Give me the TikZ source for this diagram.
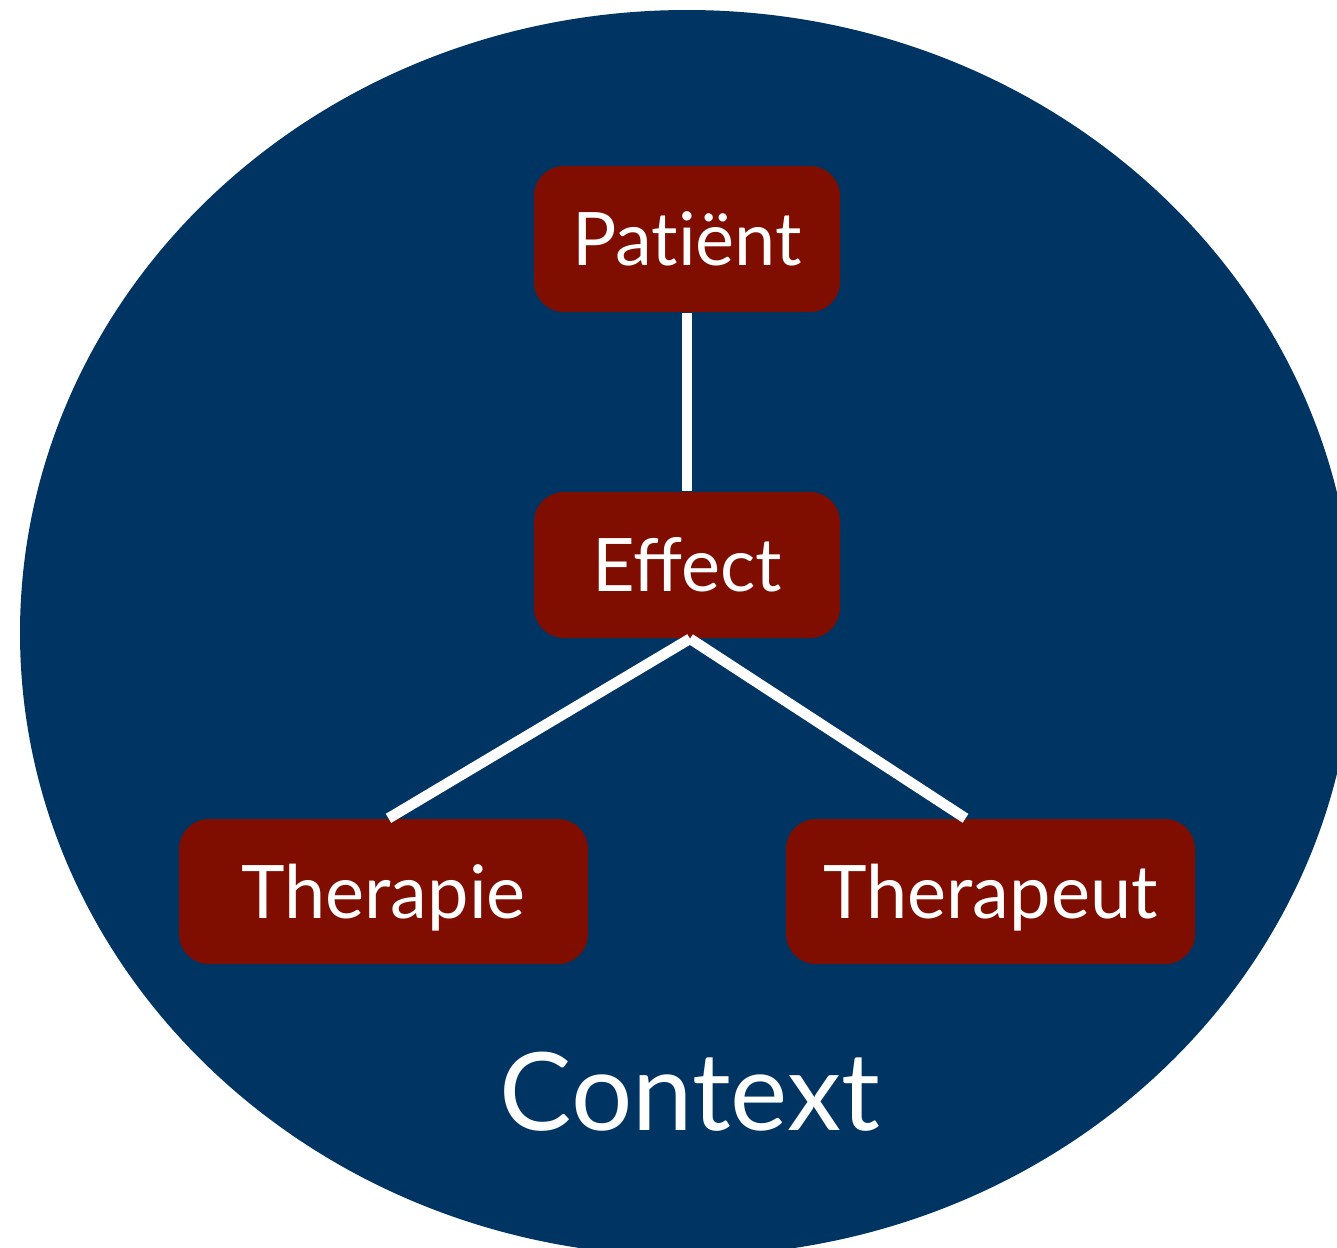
\documentclass[tikz,border=0pt]{standalone}
\usepackage{fontspec}
\setmainfont{Lato}
\usetikzlibrary{calc}
\definecolor{ctxblue}{RGB}{0,52,98}
\definecolor{boxred}{RGB}{127,14,0}
\tikzset{
  factor/.style={fill=boxred, rounded corners=30*0.01cm, inner sep=0pt,
    text=white, font=\fontsize{21pt}{25pt}\selectfont,
    text height=15.1pt, text depth=0pt},
  smallbox/.style={factor, minimum width=306*0.01cm, minimum height=146*0.01cm},
  widebox/.style={factor, minimum width=409*0.01cm, minimum height=145*0.01cm},
  link/.style={draw=white, line width=3pt, line cap=butt}
}
\begin{document}
\begin{tikzpicture}[x=0.01cm, y=-0.01cm]
  \useasboundingbox (0,0) rectangle (1337,1247);
  \clip (0,0) rectangle (1337,1247);
  \fill[ctxblue] (687,633) ellipse [x radius=667, y radius=623];
  \node[smallbox] (patient) at (687,239) {Pat\kern0pt iënt};
  \node[smallbox] (effect) at (687,565) {Effect};
  \node[widebox] (therapie) at (383.5,891.5) {Therapie};
  \node[widebox] (therapeut) at (990.5,891.5) {Therapeut};
  \node[text=white, font=\fontsize{30.8pt}{36pt}\selectfont, anchor=base] (context) at (690,1130) {Context};
  \draw[link] (patient.south) -- (effect.north);
  \draw[link] ($(effect.south)+(3,0)$) -- ($(therapie.north)+(5,0)$);
  \draw[link] ($(effect.south)+(3,0)$) -- ($(therapeut.north)+(-25,0)$);
\end{tikzpicture}
\end{document}
